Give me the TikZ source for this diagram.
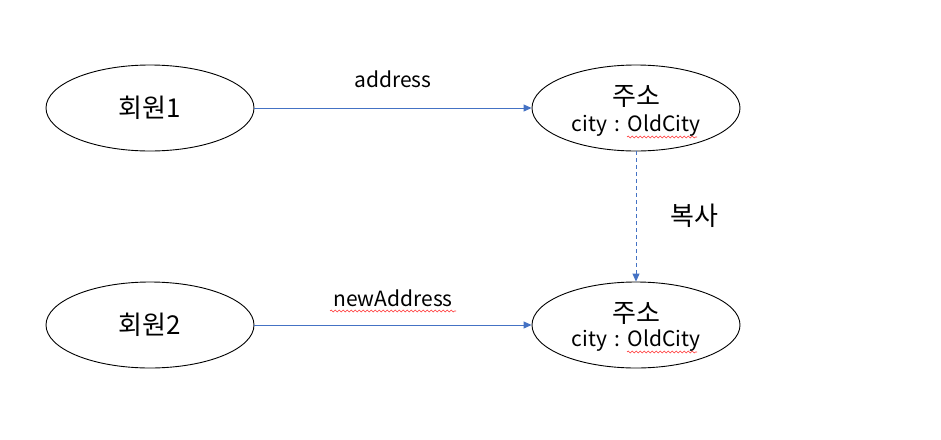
\documentclass[tikz,border=0pt]{standalone}
\usepackage{fontspec}
\setmainfont{Noto Sans CJK KR}
\usetikzlibrary{shapes.geometric,arrows.meta,decorations.pathmorphing}
\definecolor{lineblue}{HTML}{4472C4}
\tikzset{
  ent/.style={draw=black, line width=0.9pt, ellipse, minimum width=208pt, minimum height=86pt, inner sep=0pt},
  link/.style={draw=lineblue, line width=1pt, -{Triangle[length=8pt,width=7pt]}},
  lbl/.style={font=\fontsize{21pt}{23pt}\selectfont, inner sep=0pt},
  big/.style={font=\fontsize{26pt}{28pt}\selectfont, inner sep=0pt},
  squiggle/.style={draw=red!80, line width=0.6pt, decorate, decoration={snake, amplitude=0.9pt, segment length=4pt}}
}
\begin{document}
\begin{tikzpicture}[x=1pt,y=-1pt]
\path[fill=white,use as bounding box] (0,0) rectangle (941,439);
\node[ent] (m1) at (150,108) {};
\node[ent] (m2) at (150,325) {};
\node[ent] (a1) at (636,108) {};
\node[ent] (a2) at (636,325) {};
\node[big] (m1t) at (150,108) {회원1};
\node[big] (m2t) at (150,325) {회원2};
\node[big] (a1t) at (636,96) {주소};
\node[lbl] (a1c) at (636,126) {city\hspace{0.35em}:\hspace{0.35em}OldCity};
\node[big] (a2t) at (636,313) {주소};
\node[lbl] (a2c) at (636,341) {city\hspace{0.35em}:\hspace{0.35em}OldCity};
\draw[link] (m1) -- (a1);
\draw[link] (m2) -- (a2);
\draw[link, dashed, dash pattern=on 4pt off 3pt] (a1) -- (a2);
\node[lbl] (l1) at (393,79) {address};
\node[lbl] (l2) at (393,298) {newAddress};
\node[big] (l3) at (694,216) {복사};
\coordinate (s1a) at (330,311); \coordinate (s1b) at (456,311);
\draw[squiggle] (s1a) -- (s1b);
\coordinate (s2a) at (627,137); \coordinate (s2b) at (697,137);
\draw[squiggle] (s2a) -- (s2b);
\coordinate (s3a) at (627,352); \coordinate (s3b) at (697,352);
\draw[squiggle] (s3a) -- (s3b);
\end{tikzpicture}
\end{document}
